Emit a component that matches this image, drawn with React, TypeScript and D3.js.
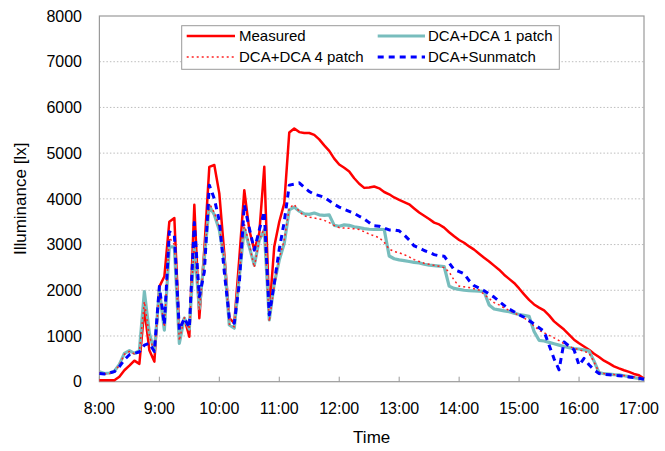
import React from "react";
import * as d3 from "d3";

// Sample times: minutes after 8:00, every 5 minutes (8:00 .. 17:05)
const sampleMinutes: number[] = d3.range(0, 546, 5);

const hourLabels = ["8:00", "9:00", "10:00", "11:00", "12:00", "13:00", "14:00", "15:00", "16:00", "17:00"];
const yTicks = [0, 1000, 2000, 3000, 4000, 5000, 6000, 7000, 8000];

const measured = [
  30, 30, 30, 30, 110, 250, 350, 460, 390, 1600, 690, 440,
  2080, 2300, 3500, 3580, 1090, 1390, 985, 3870, 1390, 2900, 4700, 4740,
  4120, 2800, 1390, 1280, 2700, 4190, 3320, 2880, 3250, 4700, 1500, 2960,
  3500, 3900, 5450,
  5540, 5460, 5440, 5440, 5400, 5300, 5170, 5050, 4880,
  4750, 4680, 4600, 4450, 4330, 4240, 4250, 4270, 4230, 4150, 4100, 4030,
  3980, 3930, 3880, 3790, 3700, 3630, 3560, 3480, 3440, 3370, 3270, 3180,
  3100, 3040, 2960, 2890, 2800, 2710, 2630, 2540, 2450, 2340, 2250, 2160,
  2040, 1910, 1790, 1690, 1620, 1560, 1450, 1320, 1230, 1140, 1030, 920,
  840, 770, 700, 610, 540, 460, 400, 335, 290, 250, 215, 170,
  140, 70,
];

const dca1patch = [
  220, 180, 190, 230, 380, 620, 680, 620, 680, 1970, 1060, 660,
  2000, 1130, 2950, 2950, 840, 1390, 1150, 2950, 1600, 2700, 3850, 3650,
  3320, 2660, 1240, 1170, 2300, 3350, 2950, 2550, 3100, 3320, 1350, 2150,
  2660, 3030, 3760,
  3820, 3730, 3670, 3660, 3690, 3650, 3640, 3650, 3420,
  3400, 3430, 3420, 3390, 3370, 3350, 3335, 3330, 3335, 3330, 2750, 2690,
  2665, 2650, 2630, 2610, 2600, 2570, 2550, 2540, 2530, 2520, 2090, 2040,
  2020, 2000, 1990, 1985, 1980, 1970, 1680, 1590, 1570, 1550, 1530, 1500,
  1470, 1450, 1430, 1100, 905, 890, 860, 830, 800, 770, 745, 725,
  715, 695, 670, 450, 200, 175, 165, 155, 148, 130, 110, 90,
  70, 50,
];

const dca4patch = [
  200, 170, 180, 220, 360, 600, 660, 610, 660, 1750, 1000, 640,
  1950, 1200, 3150, 3000, 900, 1400, 1150, 3050, 1550, 2750, 3900, 3700,
  3380, 2700, 1260, 1200, 2350, 3450, 3000, 2500, 3100, 3350, 1320, 2100,
  2700, 3100, 3800,
  3880, 3720, 3630, 3600, 3580, 3560, 3530, 3480, 3420,
  3370, 3360, 3355, 3345, 3330, 3280, 3230, 3190, 3150, 3050, 2900, 2850,
  2820, 2780, 2730, 2670, 2630, 2590, 2570, 2545, 2525, 2495, 2400, 2220,
  2090, 2075, 2060, 2035, 2005, 1910, 1820, 1730, 1680, 1615, 1560, 1505,
  1450, 1395, 1310, 1220, 1125, 1070, 1015, 960, 900, 830, 770, 730,
  700, 665, 625, 430, 210, 180, 165, 155, 145, 135, 120, 105,
  90, 70,
];

const sunmatch = [
  180, 170, 190, 220, 330, 480, 590, 620, 650, 800, 840, 660,
  2080, 1250, 3280, 3220, 1130, 1390, 1180, 3480, 1860, 2400, 4300, 4000,
  3520, 2400, 1400, 1280, 2150, 3870, 3360, 2880, 3320, 3720, 1460, 2150,
  2900, 3500, 4300,
  4320, 4350, 4250, 4160, 4100, 4070, 4035, 3960, 3880,
  3820, 3770, 3725, 3680, 3620, 3560, 3480, 3410, 3400, 3360, 3320, 3320,
  3300, 3210, 3100, 2970, 2930, 2870, 2830, 2780, 2755, 2745, 2600, 2450,
  2410, 2360, 2210, 2100, 2050, 1990, 1920, 1850, 1760, 1670, 1590, 1530,
  1465, 1410, 1340, 1260, 1180, 1100, 800, 500, 260, 870, 780, 700,
  360, 510, 370, 260, 180, 160, 150, 140, 130, 120, 105, 90,
  75, 55,
];

const seriesNames = ["Measured", "DCA+DCA 1 patch", "DCA+DCA 4 patch", "DCA+Sunmatch"];

const FONT = "Arial, 'Liberation Sans', Helvetica, sans-serif";

export default function App() {
  const W = 665, H = 451;
  const left = 99.4, right = 644, top = 16, bottom = 381.7;

  const x = d3.scaleLinear().domain([0, 545]).range([left, right]);
  const y = d3.scaleLinear().domain([0, 8000]).range([bottom, top]);

  const line = d3
    .line<number>()
    .x((_, i) => x(sampleMinutes[i]))
    .y((v) => y(v));

  const styles = [
    { data: measured, stroke: "#ff0000", width: 2.5, dash: undefined as string | undefined },
    { data: dca1patch, stroke: "#78bdbd", width: 3.2, dash: undefined },
    { data: dca4patch, stroke: "#ff2020", width: 1.5, dash: "2,3" },
    { data: sunmatch, stroke: "#0000ff", width: 3, dash: "6,5" },
  ];

  const legendPos = [
    { x1: 186.7, x2: 235, tx: 239, y: 36 },
    { x1: 377.7, x2: 425, tx: 428, y: 36 },
    { x1: 186.7, x2: 235, tx: 239, y: 57 },
    { x1: 377.7, x2: 425, tx: 428, y: 57 },
  ];

  return (
    <svg width={W} height={H} style={{ position: "absolute", left: 0, top: 0, background: "#fff" }} fontFamily={FONT}>
      <rect x={0} y={0} width={W} height={H} fill="#fff" />
      {/* gridlines */}
      {yTicks.slice(1, -1).map((t) => (
        <line key={t} x1={left} x2={right} y1={y(t)} y2={y(t)} stroke="#bdbdbd" strokeWidth={1} strokeDasharray="1.5,2" />
      ))}
      {/* plot border */}
      <rect x={left} y={top} width={right - left} height={bottom - top} fill="none" stroke="#9a9a9a" strokeWidth={1.2} />
      {/* x ticks */}
      {hourLabels.map((lab, i) => (
        <g key={lab}>
          <line x1={x(i * 60)} x2={x(i * 60)} y1={bottom} y2={bottom - 5} stroke="#9a9a9a" strokeWidth={1} />
          <text x={x(i * 60)} y={414} textAnchor="middle" fontSize={16} fill="#000">
            {lab}
          </text>
        </g>
      ))}
      {/* y tick labels */}
      {yTicks.map((t) => (
        <text key={t} x={82} y={y(t)} dy="0.36em" textAnchor="end" fontSize={16} fill="#000">
          {t}
        </text>
      ))}
      {/* series */}
      {styles.map((s, i) => (
        <path
          key={i}
          d={line(s.data) || ""}
          fill="none"
          stroke={s.stroke}
          strokeWidth={s.width}
          strokeDasharray={s.dash}
          strokeLinejoin="round"
        />
      ))}
      {/* axis titles */}
      <text x={(left + right) / 2} y={443} textAnchor="middle" fontSize={17} fill="#000">
        Time
      </text>
      <text transform={`translate(26, ${(top + bottom) / 2}) rotate(-90)`} textAnchor="middle" fontSize={17} fill="#000">
        Illuminance [lx]
      </text>
      {/* legend */}
      <rect x={181.7} y={25.7} width={377.6} height={43.6} fill="#fff" stroke="#9a9a9a" strokeWidth={1} />
      {seriesNames.map((name, i) => (
        <g key={name}>
          <line
            x1={legendPos[i].x1}
            x2={legendPos[i].x2}
            y1={legendPos[i].y}
            y2={legendPos[i].y}
            stroke={styles[i].stroke}
            strokeWidth={styles[i].width}
            strokeDasharray={styles[i].dash}
          />
          <text x={legendPos[i].tx} y={legendPos[i].y} dy="0.36em" fontSize={15} fill="#000">
            {name}
          </text>
        </g>
      ))}
    </svg>
  );
}
